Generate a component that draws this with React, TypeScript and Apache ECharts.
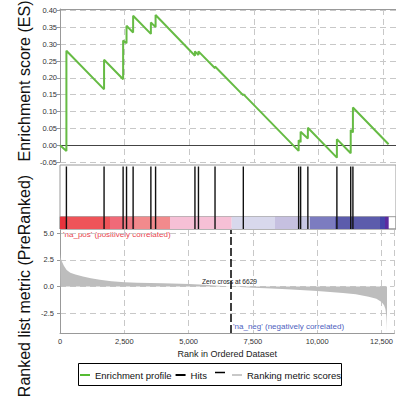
import { useEffect, useRef } from "react";
import * as echarts from "echarts";

const FONT = "'Liberation Sans', Arial, Helvetica, sans-serif";

const rankMax = 13000;
const zeroCross = 6629;
const metricTicks = [-2.5, 0, 2.5, 5];

// Hit positions (ranks) of gene-set members
const hitRanks = [248, 1705, 2442, 2574, 2829, 3516, 3698, 5221, 5357, 5998, 7093, 9233, 9310, 9590, 10713, 11248, 11333];

// Running enrichment score vertices (rank, ES)
const esRanks = [0, 248, 248, 1705, 1705, 2442, 2442, 2574, 2574, 2829, 2829, 3516, 3516, 3698, 3698, 5221, 5221, 5357, 5357, 5998, 5998, 7093, 7093, 9233, 9233, 9310, 9310, 9590, 9590, 10713, 10713, 11248, 11248, 11333, 11333, 12713];
const esScores = [0, -0.017, 0.281, 0.166, 0.254, 0.196, 0.311, 0.303, 0.355, 0.335, 0.385, 0.331, 0.365, 0.351, 0.387, 0.266, 0.279, 0.268, 0.279, 0.229, 0.234, 0.148, 0.152, -0.017, 0.015, 0.009, 0.04, 0.02, 0.052, -0.037, 0.018, -0.024, 0.045, 0.038, 0.112, 0.003];

// Ranked list metric (rank, score)
const metricRanks = [0, 20, 66, 150, 259, 400, 600, 890, 1200, 1548, 2000, 2515, 3000, 4000, 5030, 5600, 6000, 6629, 7000, 7500, 8000, 8630, 9000, 10000, 11000, 11500, 12000, 12300, 12500, 12600, 12650, 12690, 12705, 12713];
const metricValues = [3.1, 2.7, 2.4, 1.95, 1.56, 1.3, 1.12, 0.94, 0.78, 0.63, 0.5, 0.41, 0.36, 0.3, 0.23, 0.16, 0.1, 0, -0.05, -0.1, -0.15, -0.22, -0.28, -0.42, -0.6, -0.72, -0.95, -1.15, -1.45, -1.75, -2.1, -2.8, -3.6, -4.3];

// Colour bar segments
const barStarts = [0, 259, 1935, 2449, 2902, 4256, 6643, 8318, 9286, 9673, 10640, 12381, 12574];
const barEnds = [259, 1935, 2449, 2902, 4256, 6643, 8318, 9286, 9673, 10640, 12381, 12574, 12717];
const barColors = ["#e8323c", "#ef5459", "#f06a78", "#f07a84", "#f28a8c", "#f6c0d6", "#d8d8ec", "#c6c0e0", "#c8c8e4", "#7c7cc0", "#5c5cac", "#4444aa", "#5a2aa0"];

const GRID_COLOR = "#c8c8c8";
const AXIS_COLOR = "#999";

export default function App() {
  const ref = useRef<HTMLDivElement>(null);
  useEffect(() => {
    if (!ref.current) return;
    const chart = echarts.init(ref.current, undefined, { renderer: "svg" });
    const dashed = { show: true, lineStyle: { color: GRID_COLOR, type: [6, 4], width: 1 } };
    const option: any = {
      animation: false,
      backgroundColor: "#fff",
      textStyle: { fontFamily: FONT },
      grid: [
        { left: 60, right: 0, top: 9, height: 153 },
        { left: 60, right: 0, top: 165, height: 64, show: true, borderColor: AXIS_COLOR, borderWidth: 1 },
        { left: 60, right: 0, top: 216.7, height: 12.3, show: true, borderColor: AXIS_COLOR, borderWidth: 1 },
        { left: 60, right: 0, top: 230, height: 103 },
      ],
      xAxis: [
        { type: "value", gridIndex: 0, min: 0, max: rankMax, interval: 2500, axisLine: { show: false, onZero: false }, axisTick: { show: false }, axisLabel: { show: false }, splitLine: dashed },
        { type: "value", gridIndex: 0, position: "top", min: 0, max: rankMax, axisLine: { show: true, onZero: false, lineStyle: { color: AXIS_COLOR } }, axisTick: { show: false }, axisLabel: { show: false }, splitLine: { show: false } },
        { type: "value", gridIndex: 1, min: 0, max: rankMax, show: false },
        { type: "value", gridIndex: 2, min: 0, max: rankMax, show: false },
        {
          type: "value", gridIndex: 3, min: 0, max: rankMax, interval: 2500,
          axisLine: { show: true, onZero: false, lineStyle: { color: AXIS_COLOR } },
          axisTick: { show: false },
          axisLabel: { fontSize: 7.5, color: "#333", margin: 4, showMaxLabel: false, fontFamily: FONT },
          splitLine: dashed,
          name: "Rank in Ordered Dataset", nameLocation: "middle", nameGap: 16,
          nameTextStyle: { fontSize: 9, color: "#222", fontFamily: FONT },
        },
      ],
      yAxis: [
        {
          type: "value", gridIndex: 0, min: -0.05, max: 0.405, interval: 0.05,
          axisLine: { show: true, onZero: false, lineStyle: { color: AXIS_COLOR } },
          axisTick: { show: true, length: 3, lineStyle: { color: AXIS_COLOR } },
          axisLabel: { fontSize: 7.5, color: "#333", margin: 3, showMaxLabel: false, formatter: (v: number) => v.toFixed(2), fontFamily: FONT },
          splitLine: dashed,
        },
        { type: "value", gridIndex: 1, min: 0, max: 1, show: false },
        { type: "value", gridIndex: 2, min: 0, max: 1, show: false },
        {
          type: "value", gridIndex: 3, min: -4.35, max: 5.3,
          axisLine: { show: true, onZero: false, lineStyle: { color: AXIS_COLOR } },
          axisTick: { show: true, length: 3, lineStyle: { color: AXIS_COLOR }, customValues: metricTicks },
          axisLabel: { fontSize: 7.5, color: "#333", margin: 6, customValues: metricTicks, formatter: (v: number) => v.toFixed(1), fontFamily: FONT },
          splitLine: dashed,
        },
      ],
      legend: [
        {
          left: 80, top: 370, padding: 0, itemGap: 4, itemWidth: 10, itemHeight: 2, selectedMode: false,
          textStyle: { fontSize: 9.5, color: "#111", fontFamily: FONT },
          data: [
            { name: "Enrichment profile", icon: "rect", itemStyle: { color: "#55bb33" } },
            { name: "Hits", icon: "rect", itemStyle: { color: "#000" } },
          ],
        },
        {
          left: 232, top: 370, padding: 0, itemWidth: 10, itemHeight: 2, selectedMode: false,
          textStyle: { fontSize: 9.5, color: "#111", fontFamily: FONT },
          data: [{ name: "Ranking metric scores", icon: "rect", itemStyle: { color: "#c8c8c8" } }],
        },
      ],
      series: [
        {
          type: "custom", name: "Colour bar", xAxisIndex: 3, yAxisIndex: 2, z: 1,
          data: barStarts.map((s, i) => [s, barEnds[i], i]),
          encode: { x: [0, 1] },
          renderItem: (_p: any, api: any) => {
            const a = api.coord([api.value(0), 1]);
            const b = api.coord([api.value(1), 0]);
            return { type: "rect", shape: { x: a[0], y: a[1], width: b[0] - a[0], height: b[1] - a[1] }, style: { fill: barColors[api.value(2)] } };
          },
        },
        {
          type: "custom", name: "Hits", xAxisIndex: 2, yAxisIndex: 1, z: 5,
          data: hitRanks.map((r) => [r]),
          encode: { x: 0 },
          itemStyle: { color: "#000" },
          renderItem: (_p: any, api: any) => {
            const t = api.coord([api.value(0), 1]);
            const b = api.coord([api.value(0), 0]);
            return { type: "line", shape: { x1: t[0], y1: t[1] + 1.5, x2: b[0], y2: b[1] }, style: { stroke: "#111", lineWidth: 1.4 } };
          },
        },
        {
          type: "line", name: "Enrichment profile", xAxisIndex: 0, yAxisIndex: 0, z: 4,
          data: esRanks.map((r, i) => [r, esScores[i]]),
          symbol: "none", showSymbol: false,
          lineStyle: { color: "#66bb44", width: 2 },
          itemStyle: { color: "#66bb44" },
          markLine: {
            silent: true, symbol: ["none", "none"], label: { show: false }, z: 3,
            lineStyle: { color: "#444", width: 1, type: "solid" },
            data: [{ yAxis: 0 }],
          },
        },
        {
          type: "line", name: "Ranking metric scores", xAxisIndex: 4, yAxisIndex: 3,
          data: metricRanks.map((r, i) => [r, metricValues[i]]),
          symbol: "none", showSymbol: false,
          lineStyle: { color: "#bdbdbd", width: 0 },
          itemStyle: { color: "#bdbdbd" },
          areaStyle: { color: "#bdbdbd", opacity: 1, origin: 0 },
          markLine: {
            silent: true, symbol: ["none", "none"], label: { show: false },
            lineStyle: { color: "#000", width: 1.5, type: [8, 3] },
            data: [{ xAxis: zeroCross }],
          },
          markPoint: {
            silent: true, symbol: "circle", symbolSize: 1,
            itemStyle: { color: "transparent" },
            label: { show: true, position: "inside", offset: [-1, -5], formatter: "Zero cross at " + zeroCross, fontSize: 6.6, color: "#222", fontFamily: FONT },
            data: [{ coord: [zeroCross, 0] }],
          },
        },
      ],
      graphic: [
        { type: "text", x: 24, y: 81, rotation: Math.PI / 2, style: { text: "Enrichment score (ES)", fill: "#111", fontSize: 16, fontFamily: FONT, align: "center", verticalAlign: "middle", textAlign: "center", textVerticalAlign: "middle" } },
        { type: "text", x: 24, y: 286, rotation: Math.PI / 2, style: { text: "Ranked list metric (PreRanked)", fill: "#111", fontSize: 16, fontFamily: FONT, align: "center", verticalAlign: "middle", textAlign: "center", textVerticalAlign: "middle" } },
        { type: "text", x: 63, y: 234.7, style: { text: "'na_pos' (positively correlated)", fill: "#e8424c", fontSize: 8, fontFamily: FONT, align: "left", verticalAlign: "middle", textAlign: "left", textVerticalAlign: "middle" } },
        { type: "text", x: 233, y: 326.7, style: { text: "'na_neg' (negatively correlated)", fill: "#4f5fc0", fontSize: 8, fontFamily: FONT, align: "left", verticalAlign: "middle", textAlign: "left", textVerticalAlign: "middle" } },
        { type: "rect", shape: { x: 78.5, y: 363.5, width: 263, height: 22 }, style: { fill: "transparent", stroke: "#000", lineWidth: 1 } },
        { type: "line", shape: { x1: 215, y1: 372.5, x2: 225, y2: 372.5 }, style: { stroke: "#000", lineWidth: 1.5 } },
      ],
    };
    chart.setOption(option);
    return () => chart.dispose();
  }, []);
  return <div ref={ref} style={{ position: "absolute", left: 0, top: 0, width: 396, height: 405 }} />;
}
